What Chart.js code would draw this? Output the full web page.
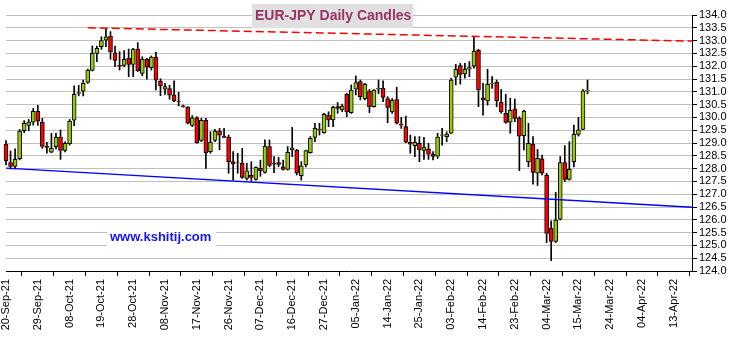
<!DOCTYPE html>
<html>
<head>
<meta charset="utf-8">
<script src="https://cdn.jsdelivr.net/npm/chart.js@4"></script>
<style>
  body { margin: 0; background: #fff; }
  #wrap { width: 733px; height: 337px; position: relative; }
</style>
</head>
<body>
<div id="wrap"><canvas id="chart"></canvas></div>
<script>
// daily candles, 20-Sep-21 .. 17-Mar-22 (weekdays)
const opens = [128.96,128.24,128.09,128.39,129.48,129.69,129.81,130.24,129.81,128.88,128.64,128.86,129.23,128.71,128.97,129.89,130.94,131.02,131.37,131.84,132.50,132.76,133.02,133.17,132.52,132.03,132.03,132.31,132.07,132.67,131.72,132.27,131.94,132.36,131.42,131.10,131.13,130.88,130.64,130.45,130.39,129.69,129.98,129.10,129.89,128.66,129.10,129.47,129.27,129.23,128.27,128.23,128.22,127.62,127.75,127.58,128.01,127.85,128.86,128.22,128.24,128.07,127.97,128.73,128.71,127.72,128.14,128.62,129.22,129.54,129.40,130.08,129.90,130.42,130.29,130.90,130.18,131.10,131.40,130.73,131.03,130.42,131.10,131.14,130.74,130.21,130.70,129.74,129.64,129.04,128.90,128.99,128.71,128.77,128.56,128.49,129.30,129.25,129.38,131.57,132.02,131.70,131.88,132.00,132.63,130.76,130.64,131.31,131.37,130.60,130.16,129.81,130.33,129.96,129.29,128.27,128.95,127.82,128.38,127.75,125.67,125.16,126.02,128.24,127.58,128.27,129.34,129.53,131.03];
const highs = [129.09,128.69,128.77,129.53,129.87,129.92,130.35,130.47,129.96,129.03,129.38,129.38,129.51,129.05,129.92,131.23,131.25,131.46,131.89,132.79,132.79,133.15,133.48,133.35,132.79,132.57,132.61,132.67,132.70,132.92,132.37,132.31,132.40,132.55,131.51,131.33,131.26,131.43,130.98,130.48,130.42,130.07,130.03,129.96,129.96,129.44,129.53,129.57,129.57,129.31,128.66,128.60,128.79,128.21,128.27,128.07,128.33,129.12,129.12,128.47,128.44,128.33,128.86,129.61,128.75,128.27,128.72,129.25,129.77,129.77,130.16,130.22,130.44,130.58,130.52,130.94,131.27,131.62,131.46,131.33,131.09,131.09,131.46,131.43,130.81,130.74,131.18,130.00,130.05,129.31,129.25,129.25,129.22,128.99,128.66,129.38,129.57,129.44,131.53,132.07,132.11,132.11,132.18,133.15,132.66,131.33,131.88,131.59,131.46,131.09,130.90,130.75,130.72,130.03,130.29,129.77,129.25,128.75,128.53,127.82,125.96,127.07,128.47,128.90,129.05,129.70,130.00,131.09,131.46];
const lows = [128.14,127.98,127.99,128.34,129.40,129.48,129.70,129.69,128.79,128.60,128.62,128.77,128.36,128.65,128.92,129.68,130.84,130.84,131.33,131.81,132.18,132.66,132.76,132.27,131.98,131.85,131.98,131.59,131.59,131.79,131.63,131.49,131.85,131.07,130.85,130.90,130.71,130.61,130.45,130.40,129.74,129.64,128.99,129.05,128.01,128.60,129.05,128.73,129.22,127.82,127.55,127.82,127.62,127.55,127.49,127.55,127.70,127.82,128.07,127.84,128.07,127.94,127.94,128.47,127.75,127.55,128.07,128.60,129.05,129.31,129.38,129.64,129.64,130.16,130.22,130.03,130.16,130.88,130.68,130.68,130.18,130.40,130.92,130.61,129.79,130.16,129.74,129.57,129.01,128.60,128.47,128.27,128.36,128.36,128.34,128.40,128.92,129.05,129.36,131.27,131.30,131.53,131.59,131.92,130.42,130.09,130.48,131.13,130.42,130.16,129.77,129.38,129.83,127.92,128.73,128.07,127.39,127.34,127.75,125.11,124.40,125.11,125.99,127.49,127.55,128.07,129.27,129.51,130.92];
const closes = [128.31,128.09,128.36,129.47,129.77,129.82,130.24,129.85,128.87,128.83,128.79,129.23,128.71,128.99,129.86,130.90,130.97,131.33,131.85,132.50,132.70,133.00,133.15,132.57,132.23,132.00,132.27,132.07,132.67,131.83,132.27,131.96,132.36,131.45,131.23,131.20,130.87,130.65,130.62,130.41,129.77,129.98,129.01,129.89,128.62,129.03,129.47,129.31,129.22,128.27,128.18,128.22,127.66,127.91,127.66,128.05,127.92,128.88,128.12,128.17,128.16,127.97,128.64,128.81,127.82,128.11,128.70,129.18,129.57,129.52,130.12,129.90,130.39,130.35,130.44,130.22,131.07,131.36,130.81,131.29,130.42,131.07,131.14,130.78,130.39,130.68,129.77,129.70,129.03,128.95,129.03,128.73,128.84,128.56,128.48,129.23,129.32,129.35,131.46,131.88,131.68,131.88,131.95,132.59,131.07,130.68,131.29,131.33,130.64,130.21,129.80,130.28,129.96,129.27,130.25,128.99,127.85,128.40,127.82,125.47,125.16,125.99,128.24,127.58,127.97,129.34,129.51,131.04,131.06];

const tickLabels = ['20-Sep-21','29-Sep-21','08-Oct-21','19-Oct-21','28-Oct-21','08-Nov-21','17-Nov-21','26-Nov-21','07-Dec-21','16-Dec-21','27-Dec-21','05-Jan-22','14-Jan-22','25-Jan-22','03-Feb-22','14-Feb-22','23-Feb-22','04-Mar-22','15-Mar-22','24-Mar-22','04-Apr-22','13-Apr-22'];

// trend lines: [dayIndex, value]
const resistance = [[18, 133.50], [151, 132.98]];
const support = [[0, 128.02], [151, 126.49]];

const yMin = 124, yMax = 134, yStep = 0.5;
const totalDays = 152;

// weekday calendar for the category axis
const months = ['Jan','Feb','Mar','Apr','May','Jun','Jul','Aug','Sep','Oct','Nov','Dec'];
const days = [];
let d = new Date(Date.UTC(2021, 8, 20));
while (days.length < totalDays) {
  const wd = d.getUTCDay();
  if (wd !== 0 && wd !== 6) {
    days.push(String(d.getUTCDate()).padStart(2, '0') + '-' + months[d.getUTCMonth()] + '-' + String(d.getUTCFullYear()).slice(2));
  }
  d = new Date(d.getTime() + 86400000);
}

const GREEN = '#99cc00', RED = '#ff0000';
const bodies = opens.map((o, i) => [o, closes[i]]);
const wicks = lows.map((l, i) => [l, highs[i]]);
const bodyColors = opens.map((o, i) => closes[i] >= o ? GREEN : RED);

const FONT = "'Liberation Sans', Arial, sans-serif";

const overlay = {
  id: 'overlay',
  afterDraw(chart) {
    const c = chart.ctx;
    c.save();
    // watermark
    c.fillStyle = '#ffffff';
    c.fillRect(107, 227, 109, 20);
    c.fillStyle = '#1414f0';
    c.font = 'bold 13px ' + FONT;
    c.textBaseline = 'middle';
    c.textAlign = 'left';
    c.fillText('www.kshitij.com', 110, 237);
    // title
    c.fillStyle = '#e0e0e0';
    c.fillRect(252, 4, 161, 24);
    c.fillStyle = '#993366';
    c.font = 'bold 14px ' + FONT;
    c.fillText('EUR-JPY Daily Candles', 255, 16.5);
    c.restore();
  }
};

new Chart(document.getElementById('chart'), {
  type: 'bar',
  data: {
    labels: days,
    datasets: [
      {
        type: 'line',
        data: resistance.map(p => ({ x: days[p[0]], y: p[1] })),
        borderColor: RED,
        borderWidth: 1.5,
        borderDash: [8, 4],
        pointRadius: 0,
        order: 0
      },
      {
        type: 'line',
        data: support.map(p => ({ x: days[p[0]], y: p[1] })),
        borderColor: '#0000ff',
        borderWidth: 1.3,
        pointRadius: 0,
        clip: false,
        order: 0
      },
      {
        data: bodies,
        backgroundColor: bodyColors,
        borderColor: '#000',
        borderWidth: 1,
        borderSkipped: false,
        barThickness: 4,
        grouped: false,
        clip: false,
        order: 1
      },
      {
        data: wicks,
        backgroundColor: '#000',
        borderWidth: 0,
        barThickness: 1,
        grouped: false,
        clip: false,
        order: 2
      }
    ]
  },
  options: {
    responsive: true,
    maintainAspectRatio: false,
    animation: false,
    layout: { padding: { left: 6, top: 15, right: 0, bottom: 0 } },
    plugins: { legend: { display: false }, tooltip: { enabled: false } },
    scales: {
      x: {
        offset: false,
        grid: { drawOnChartArea: false, drawTicks: true, tickLength: 5, tickColor: '#000' },
        border: { color: '#000', width: 1 },
        ticks: {
          autoSkip: false,
          maxRotation: 90,
          minRotation: 90,
          padding: 3,
          color: '#000',
          font: { family: FONT, size: 11 },
          callback: function(v, i) {
            const lab = this.getLabelForValue(v);
            return tickLabels.includes(lab) ? lab : null;
          }
        },
        afterFit: s => { s.height = 66; }
      },
      y: {
        position: 'right',
        min: yMin,
        max: yMax,
        grid: { color: '#c0c0c0', tickColor: '#000', tickLength: 5 },
        border: { color: '#000', width: 1 },
        ticks: {
          stepSize: yStep,
          autoSkip: false,
          padding: 2,
          color: '#000',
          font: { family: FONT, size: 11 },
          callback: v => v.toFixed(1)
        },
        afterFit: s => { s.width = 41; }
      }
    }
  },
  plugins: [overlay]
});
</script>
</body>
</html>
